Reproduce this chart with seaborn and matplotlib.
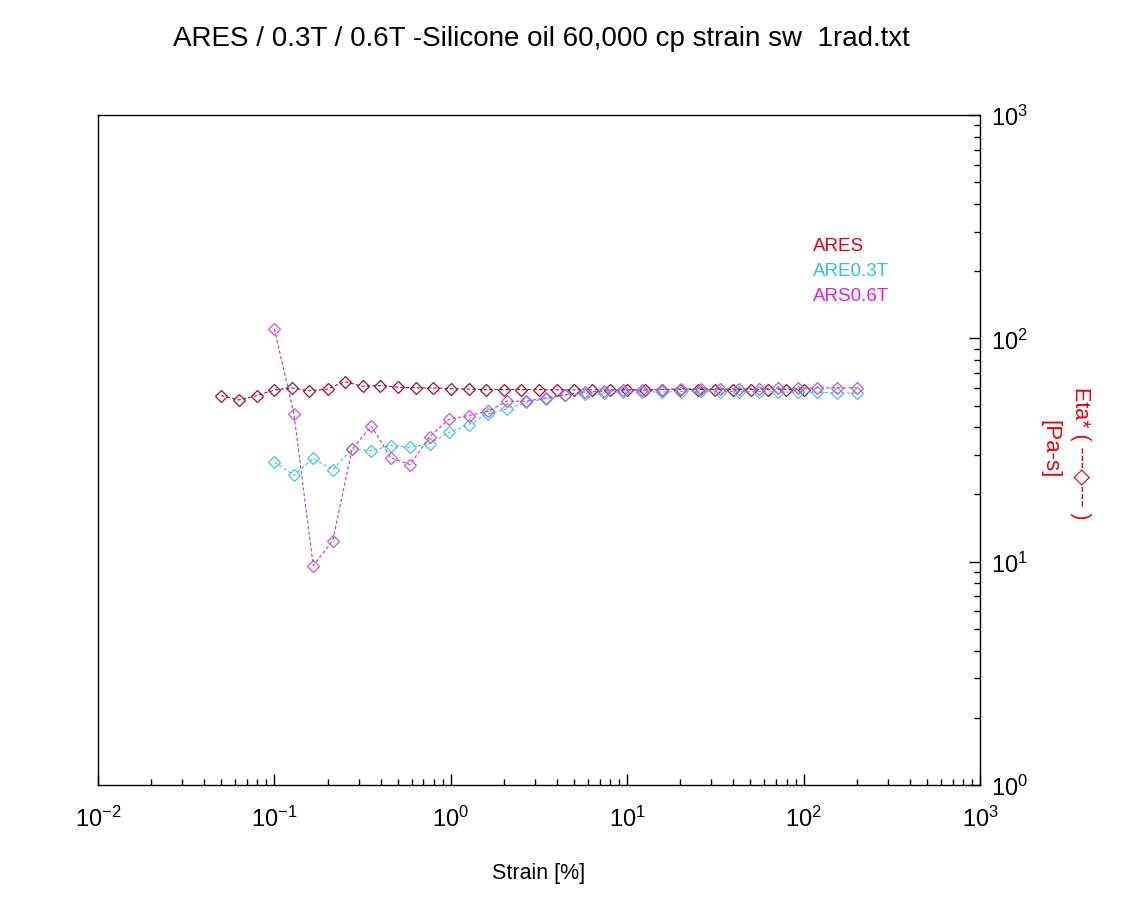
import matplotlib
matplotlib.use("Agg")
import matplotlib.pyplot as plt
import matplotlib.ticker as mticker
import seaborn as sns
import pandas as pd
import numpy as np

sns.set_theme(style="white")
plt.rcParams['font.family'] = ['Liberation Sans', 'DejaVu Sans']
plt.rcParams['text.color'] = 'black'
plt.rcParams['xtick.color'] = 'black'
plt.rcParams['ytick.color'] = 'black'
plt.rcParams['axes.labelcolor'] = 'black'
plt.rcParams['mathtext.fontset'] = 'custom'
plt.rcParams['mathtext.rm'] = 'Liberation Sans'

# ---- data ----
ares_strain = [0.05, 0.0631, 0.0794, 0.1, 0.126, 0.158, 0.2, 0.251, 0.316, 0.398,
               0.501, 0.631, 0.794, 1.0, 1.26, 1.58, 2.0, 2.51, 3.16, 3.98,
               5.01, 6.31, 7.94, 10.0, 12.6, 15.8, 20.0, 25.1, 31.6, 39.8,
               50.1, 63.1, 79.4, 100.0]
ares_eta = [55.4, 53.0, 55.4, 58.7, 60.0, 58.2, 59.3, 64.0, 61.0, 61.4,
            60.5, 60.0, 60.0, 59.5, 59.2, 59.0, 59.0, 59.0, 59.0, 58.8,
            58.8, 58.8, 58.8, 58.8, 58.8, 59.0, 59.0, 59.0, 59.0, 59.0,
            59.0, 59.0, 59.0, 59.0]

t_strain = [0.1, 0.129, 0.166, 0.214, 0.276, 0.355, 0.457, 0.589, 0.758, 0.977,
            1.26, 1.62, 2.08, 2.68, 3.45, 4.45, 5.73, 7.38, 9.5, 12.2,
            15.8, 20.3, 26.1, 33.6, 43.3, 55.8, 71.8, 92.5, 119.0, 154.0, 200.0]
are03_eta = [27.9, 24.4, 29.0, 25.8, 32.0, 31.4, 33.1, 32.5, 33.7, 37.9,
             41.1, 45.8, 48.3, 51.7, 53.6, 55.5, 56.5, 57.0, 57.5, 57.5,
             57.5, 57.8, 58.0, 57.8, 57.8, 57.8, 57.5, 57.5, 57.3, 57.0, 56.8]
ars06_eta = [110.0, 45.9, 9.6, 12.4, 32.0, 40.4, 29.1, 27.2, 36.3, 43.4,
             45.1, 47.1, 52.3, 52.3, 54.1, 56.0, 57.5, 58.0, 58.5, 58.5,
             59.0, 59.5, 59.5, 59.5, 59.5, 59.5, 59.8, 59.8, 60.0, 60.0, 60.0]

series_names = ["ARES", "ARE0.3T", "ARS0.6T"]

df = pd.concat([
    pd.DataFrame({"strain": ares_strain, "eta": ares_eta, "series": "ARES"}),
    pd.DataFrame({"strain": t_strain, "eta": are03_eta, "series": "ARE0.3T"}),
    pd.DataFrame({"strain": t_strain, "eta": ars06_eta, "series": "ARS0.6T"}),
], ignore_index=True)

line_colors = {"ARES": "#8a1a3a", "ARE0.3T": "#40c8d8", "ARS0.6T": "#b040c0"}
marker_colors = {"ARES": "#9a1030", "ARE0.3T": "#40c8d8", "ARS0.6T": "#d050d8"}
label_colors = {"ARES": "#e00010", "ARE0.3T": "#30c0d8", "ARS0.6T": "#e020e0"}

fig = plt.figure(figsize=(11.25, 9.12), dpi=100)
ax = fig.add_axes([98/1125, 1 - 786/912, (980 - 98)/1125, (786 - 116)/912])

for name in series_names:
    sub = df[df["series"] == name]
    sns.lineplot(data=sub, x="strain", y="eta", ax=ax, color=line_colors[name],
                 estimator=None, sort=False, linestyle=(0, (3, 2)), linewidth=0.8,
                 marker="D", markersize=6.2, markerfacecolor="none",
                 markeredgecolor=marker_colors[name], markeredgewidth=0.9,
                 legend=False)

ax.set_xscale("log")
ax.set_yscale("log")
ax.set_xlim(1e-2, 1e3)
ax.set_ylim(1e0, 1e3)

for sp in ax.spines.values():
    sp.set_color("black")
    sp.set_linewidth(1.0)

ax.yaxis.tick_right()
ax.yaxis.set_label_position("right")
ax.tick_params(axis="x", which="major", direction="in", length=8, width=1,
               labelsize=17, pad=15, bottom=True, top=False)
ax.tick_params(axis="x", which="minor", direction="in", length=4, width=1,
               bottom=True, top=False)
ax.tick_params(axis="y", which="major", direction="in", length=8, width=1,
               labelsize=17, pad=8, right=True, left=False)
ax.tick_params(axis="y", which="minor", direction="in", length=4, width=1,
               right=True, left=False)
ax.xaxis.set_major_locator(mticker.LogLocator(base=10, numticks=10))
ax.xaxis.set_minor_locator(mticker.LogLocator(base=10, subs=np.arange(2, 10), numticks=20))
ax.yaxis.set_major_locator(mticker.LogLocator(base=10, numticks=10))
ax.yaxis.set_minor_locator(mticker.LogLocator(base=10, subs=np.arange(2, 10), numticks=20))
ax.xaxis.set_minor_formatter(mticker.NullFormatter())
ax.yaxis.set_minor_formatter(mticker.NullFormatter())

ax.set_xlabel("Strain [%]", fontsize=15.5, labelpad=22)
ax.set_ylabel("")
ax.grid(False)

fig.text(541/1125, 1 - 39/912, "ARES / 0.3T / 0.6T -Silicone oil 60,000 cp strain sw  1rad.txt",
         ha="center", va="center", fontsize=20)

# text-only legend
for i, name in enumerate(series_names):
    ax.text(813/1125, 1 - (247 + 25*i)/912, name, transform=fig.transFigure,
            color=label_colors[name], fontsize=13.5, ha="left", va="center")

# right axis label
fig.text(1080/1125, 1 - 453/912, "Eta* ( ---\u25C7--- )", rotation=270,
         color="#e00010", fontsize=15.5, ha="center", va="center",
         family=['Liberation Sans', 'DejaVu Sans'])
fig.text(1050/1125, 1 - 449/912, "[Pa-s]", rotation=270,
         color="#e00010", fontsize=16, ha="center", va="center")

fig.savefig("out.png", dpi=100, facecolor="white")
